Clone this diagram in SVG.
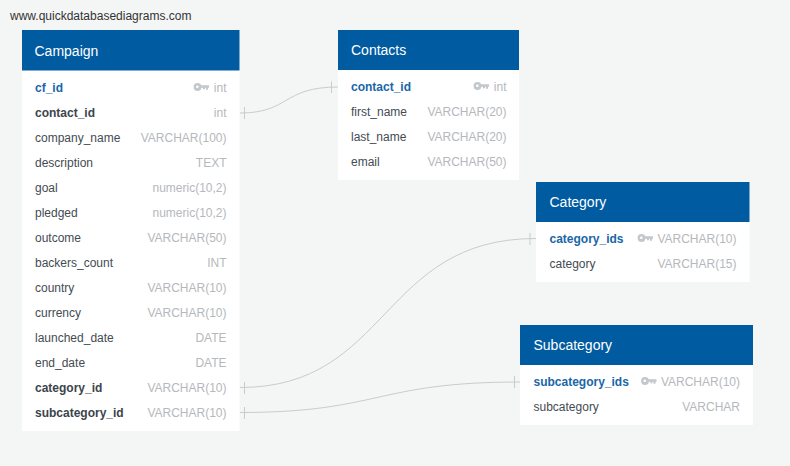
<svg xmlns="http://www.w3.org/2000/svg" width="790" height="466" viewBox="0 0 790 466">
<style>
text{font-family:"Liberation Sans",Arial,sans-serif;font-size:12px;fill:#444b52}
.h{fill:#005ba1}
.b{fill:#fff}
.t{font-size:14px;fill:#fff}
.pk{font-weight:bold;fill:#1a66a8}
.fk{font-weight:bold;fill:#3c444c}
.ty{fill:#b5b8bc;text-anchor:end}
.c{fill:none;stroke:#c9cccc;stroke-width:1}
.k{fill:#c3c8cc}
</style>
<defs>
<g id="key" class="k"><circle cx="4" cy="0" r="3.900"/><circle cx="3.800" cy="-.2" r="1.300" fill="#fff"/><path d="M7 -1.800H15.500V.8H14.500V2.800H12.500V.8H11.500V2.300H9.500V.8H7Z"/></g>
</defs>
<rect width="790" height="466" fill="#f4f6f6"/>
<text x="10" y="20" style="font-size:12px;fill:#333">www.quickdatabasediagrams.com</text>
<g id="connectors">
<path class="c" d="M240 113C290 113 282 87 338 87"/>
<path class="c" d="M244.500 107V119M331.500 81.500V93"/>
<path class="c" d="M240 387.500C390 387.500 380 238.500 536 238.500"/>
<path class="c" d="M244.500 382V394M530 233V245"/>
<path class="c" d="M240 412.500C380 412.500 375 382 520 382"/>
<path class="c" d="M244.500 407V419M514.500 376V388"/>
</g>
<g id="campaign">
<rect class="b" x="22" y="30" width="217.500" height="401"/>
<rect class="h" x="22" y="30" width="217.500" height="40.500"/>
<text class="t" x="34.500" y="56">Campaign</text>
<text class="pk" x="35" y="92">cf_id</text><use href="#key" x="193.500" y="87"/><text class="ty" x="226.500" y="92">int</text>
<text class="fk" x="35" y="117">contact_id</text><text class="ty" x="226.500" y="117">int</text>
<text x="35" y="142">company_name</text><text class="ty" x="226.500" y="142">VARCHAR(100)</text>
<text x="35" y="167">description</text><text class="ty" x="226.500" y="167">TEXT</text>
<text x="35" y="192">goal</text><text class="ty" x="226.500" y="192">numeric(10,2)</text>
<text x="35" y="217">pledged</text><text class="ty" x="226.500" y="217">numeric(10,2)</text>
<text x="35" y="242">outcome</text><text class="ty" x="226.500" y="242">VARCHAR(50)</text>
<text x="35" y="267">backers_count</text><text class="ty" x="226.500" y="267">INT</text>
<text x="35" y="292">country</text><text class="ty" x="226.500" y="292">VARCHAR(10)</text>
<text x="35" y="317">currency</text><text class="ty" x="226.500" y="317">VARCHAR(10)</text>
<text x="35" y="342">launched_date</text><text class="ty" x="226.500" y="342">DATE</text>
<text x="35" y="367">end_date</text><text class="ty" x="226.500" y="367">DATE</text>
<text class="fk" x="35" y="392">category_id</text><text class="ty" x="226.500" y="392">VARCHAR(10)</text>
<text class="fk" x="35" y="417">subcategory_id</text><text class="ty" x="226.500" y="417">VARCHAR(10)</text>
</g>
<g id="contacts">
<rect class="b" x="338" y="30" width="181" height="150"/>
<rect class="h" x="338" y="30" width="181" height="40"/>
<text class="t" x="351" y="55">Contacts</text>
<text class="pk" x="351" y="91">contact_id</text><use href="#key" x="473.500" y="86"/><text class="ty" x="506.500" y="91">int</text>
<text x="351" y="116">first_name</text><text class="ty" x="506.500" y="116">VARCHAR(20)</text>
<text x="351" y="141">last_name</text><text class="ty" x="506.500" y="141">VARCHAR(20)</text>
<text x="351" y="166">email</text><text class="ty" x="506.500" y="166">VARCHAR(50)</text>
</g>
<g id="category">
<rect class="b" x="536" y="182" width="213.500" height="100"/>
<rect class="h" x="536" y="182" width="213.500" height="40"/>
<text class="t" x="549.500" y="207">Category</text>
<text class="pk" x="549.500" y="243">category_ids</text><use href="#key" x="637.500" y="238"/><text class="ty" x="736.500" y="243">VARCHAR(10)</text>
<text x="549.500" y="268">category</text><text class="ty" x="736.500" y="268">VARCHAR(15)</text>
</g>
<g id="subcategory">
<rect class="b" x="520" y="325" width="233" height="100"/>
<rect class="h" x="520" y="325" width="233" height="40"/>
<text class="t" x="533.500" y="350">Subcategory</text>
<text class="pk" x="533.500" y="386">subcategory_ids</text><use href="#key" x="641" y="381"/><text class="ty" x="740" y="386">VARCHAR(10)</text>
<text x="533.500" y="411">subcategory</text><text class="ty" x="740" y="411">VARCHAR</text>
</g>
</svg>
